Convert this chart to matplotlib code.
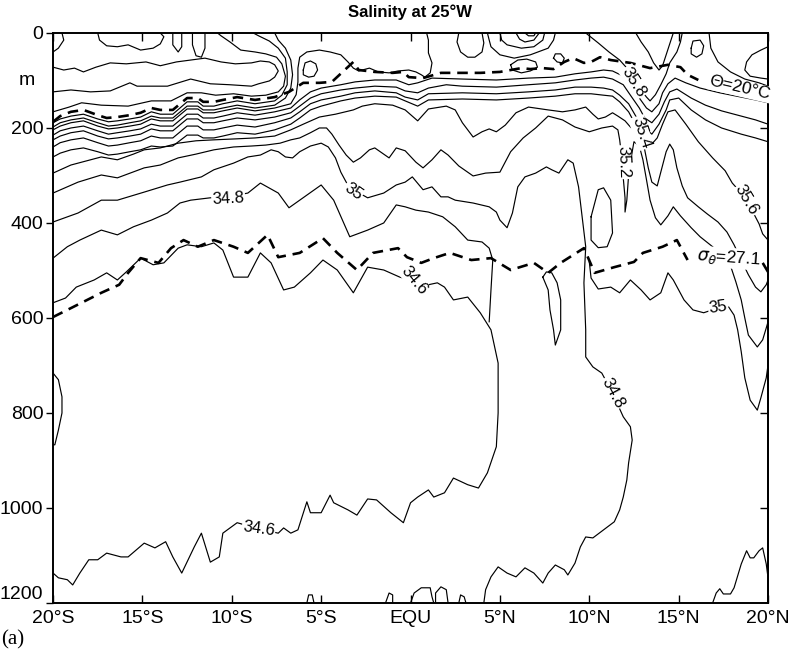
import matplotlib
matplotlib.use('Agg')
import matplotlib.pyplot as plt
import numpy as np

plt.rcParams['font.family'] = ['Liberation Sans', 'DejaVu Sans']

# ---- isohaline paths read off the section, (latitude, depth in m) ----
# south-west near-surface closed features
loop_sw = [(-20, 40), (-19.7, 32), (-19.4, 15), (-19.5, 0)]
loop_16s = [(-17.5, 0), (-17.4, 15), (-17.0, 27), (-16.4, 29), (-15.8, 25), (-15.1, 36),
            (-14.4, 32), (-14.0, 23), (-13.8, 8), (-14.0, 0)]
loop_13s = [(-13.3, 0), (-13.3, 25), (-13.0, 40), (-12.8, 29), (-12.8, 0)]
loop_12s = [(-12.2, 0), (-12.2, 25), (-12.0, 48), (-11.7, 51), (-11.5, 32), (-11.5, 0)]

# subtropical salinity-maximum tongue (closes near 7S)
tongue_a = [(-20, 72), (-19.4, 78), (-18.8, 74), (-18.3, 82), (-17.6, 72), (-16.8, 63), (-15.9, 65),
            (-14.8, 61), (-14.0, 69), (-13.1, 61), (-12.3, 57), (-11.5, 53), (-10.6, 61), (-9.8, 65),
            (-8.9, 63), (-8.4, 59), (-7.9, 61), (-7.6, 67), (-7.4, 80), (-7.6, 93), (-7.9, 101),
            (-8.5, 107), (-8.9, 112), (-10.1, 109), (-11.2, 107), (-12.3, 97), (-13.6, 112),
            (-14.5, 112), (-15.3, 112), (-15.7, 105), (-16.8, 122), (-17.9, 124), (-19.0, 120), (-20, 124)]
hook_b = [(-20, 166), (-19.1, 156), (-18.4, 147), (-17.3, 152), (-15.8, 154), (-14.5, 143), (-13.4, 143),
          (-12.5, 126), (-11.7, 126), (-10.9, 131), (-9.9, 128), (-8.9, 133), (-8.1, 131), (-7.4, 124),
          (-7.1, 112), (-7.0, 91), (-7.2, 65), (-7.5, 51), (-8.1, 44), (-8.7, 40), (-9.5, 36),
          (-10.1, 19), (-10.6, 6), (-10.8, 0)]
hook_c1 = [(-20, 189), (-19.6, 181), (-19.0, 175), (-18.3, 171), (-17.5, 181), (-16.9, 187), (-16.4, 185),
           (-15.7, 181), (-15.1, 177), (-14.5, 166), (-14.0, 171), (-13.3, 171), (-12.5, 145), (-11.9, 145),
           (-11.6, 154), (-11.0, 154), (-10.5, 149), (-9.7, 143), (-8.7, 149), (-7.6, 143), (-7.2, 131),
           (-6.9, 109), (-6.9, 82), (-7.0, 53), (-7.4, 32), (-7.9, 17), (-8.5, 6), (-8.8, 0)]
hook_c2 = [(-20, 198), (-19.6, 189), (-19.0, 183), (-18.3, 179), (-17.5, 189), (-16.9, 196), (-16.4, 194),
           (-15.7, 189), (-15.1, 185), (-14.5, 175), (-14.0, 179), (-13.3, 179), (-12.5, 154), (-11.9, 154),
           (-11.6, 162), (-11.0, 162), (-10.5, 158), (-9.7, 152), (-8.7, 158), (-7.6, 152), (-7.0, 137),
           (-6.7, 116), (-6.6, 88), (-6.7, 57), (-7.0, 32), (-7.4, 15), (-7.6, 0)]
hook_c3 = [(-20, 204), (-19.6, 196), (-19.0, 189), (-18.3, 185), (-17.5, 196), (-16.9, 202), (-16.4, 200),
           (-15.7, 196), (-15.1, 192), (-14.5, 181), (-14.0, 185), (-13.3, 185), (-12.5, 160), (-11.9, 160),
           (-11.6, 168), (-11.0, 168), (-10.5, 164), (-9.7, 158), (-8.7, 164), (-7.6, 158), (-6.7, 149),
           (-6.4, 130), (-6.3, 103), (-6.3, 74), (-6.2, 51), (-5.8, 40), (-5.1, 36), (-4.5, 40), (-3.9, 46),
           (-3.5, 61), (-3.2, 74), (-2.9, 80), (-2.3, 74), (-1.8, 82), (-1.2, 84), (-0.7, 80), (-0.1, 78),
           (0.3, 82), (0.6, 88), (0.8, 93), (1.1, 84), (1.2, 63), (1.0, 42), (1.0, 15), (0.9, 0)]

# thermocline band running across the whole section
band_1 = [(-20, 215), (-19.6, 206), (-19.0, 200), (-18.3, 196), (-17.5, 206), (-16.9, 213), (-16.4, 210),
          (-15.7, 206), (-15.1, 202), (-14.5, 192), (-14.0, 196), (-13.3, 196), (-12.5, 171), (-11.9, 171),
          (-11.6, 179), (-11.0, 179), (-10.5, 175), (-9.7, 168), (-8.7, 173), (-7.6, 166), (-6.7, 158),
          (-6.2, 141), (-5.6, 124), (-5.0, 116), (-3.9, 109), (-3.1, 103), (-2.0, 99), (-0.8, 99),
          (-0.1, 109), (0.4, 105), (1.2, 95), (2.9, 97), (4.8, 99), (6.6, 95), (8.1, 93), (9.2, 86),
          (10.1, 82), (10.8, 78), (11.3, 80), (11.9, 91), (12.4, 112), (12.8, 137), (13.2, 158),
          (13.5, 166), (13.9, 149), (14.1, 126), (14.4, 107), (14.8, 95), (15.4, 105), (16.2, 116),
          (17.3, 126), (18.5, 135), (19.3, 141), (20.0, 147)]
band_2 = [(-20, 225), (-19.6, 217), (-19.0, 210), (-18.3, 206), (-17.5, 217), (-16.9, 223), (-16.4, 221),
          (-15.7, 217), (-15.1, 213), (-14.5, 202), (-14.0, 206), (-13.3, 206), (-12.5, 181), (-11.9, 181),
          (-11.6, 189), (-11.0, 189), (-10.5, 185), (-9.7, 179), (-8.7, 183), (-7.6, 177), (-6.7, 168),
          (-6.2, 154), (-5.6, 137), (-5.0, 128), (-3.9, 120), (-3.1, 116), (-2.0, 112), (-0.8, 114),
          (-0.3, 122), (0.4, 126), (1.0, 116), (2.0, 109), (2.9, 112), (4.8, 114), (6.6, 109), (8.1, 105),
          (9.2, 99), (10.1, 95), (10.8, 93), (11.3, 97), (11.9, 109), (12.3, 131), (12.8, 158),
          (13.1, 179), (13.5, 189), (13.9, 171), (14.2, 145), (14.5, 124), (14.9, 118), (15.7, 137),
          (16.5, 152), (17.4, 164), (18.5, 175), (19.3, 183), (20.0, 192)]
band_3 = [(-20, 240), (-19.6, 231), (-19.0, 225), (-18.3, 221), (-17.5, 231), (-16.9, 238), (-16.4, 236),
          (-15.7, 231), (-15.1, 227), (-14.5, 217), (-14.0, 221), (-13.3, 221), (-12.5, 196), (-11.9, 196),
          (-11.6, 204), (-11.0, 204), (-10.5, 200), (-9.7, 194), (-8.7, 198), (-7.6, 189), (-6.7, 179),
          (-6.2, 166), (-5.6, 149), (-5.0, 141), (-3.9, 133), (-3.1, 126), (-2.0, 122), (-0.8, 126),
          (-0.3, 135), (0.4, 141), (1.0, 128), (2.9, 126), (4.8, 128), (6.6, 124), (8.1, 120), (9.2, 114),
          (10.1, 114), (10.8, 116), (11.3, 120), (11.7, 131), (12.2, 149), (12.6, 175), (13.1, 200),
          (13.5, 213), (13.9, 192), (14.3, 162), (14.5, 141), (15.0, 137), (15.7, 162), (16.5, 183),
          (17.4, 200), (18.5, 213), (19.3, 221), (20.0, 229)]
band_4 = [(-20, 261), (-19.6, 253), (-19.0, 246), (-18.3, 242), (-17.5, 250), (-16.9, 257), (-16.4, 255),
          (-15.7, 250), (-15.1, 246), (-14.5, 238), (-14.0, 240), (-13.3, 238), (-12.5, 215), (-11.9, 215),
          (-11.6, 221), (-11.0, 221), (-10.5, 217), (-9.7, 210), (-8.7, 213), (-7.6, 204), (-6.7, 192),
          (-6.2, 179), (-5.6, 162), (-5.0, 154), (-3.9, 143), (-3.1, 137), (-2.0, 133), (-0.8, 135),
          (-0.3, 143), (0.4, 154), (1.0, 141), (2.9, 139), (4.8, 141), (6.6, 137), (8.1, 133), (9.2, 128),
          (10.1, 128), (10.8, 131), (11.3, 133), (11.7, 145), (12.2, 166), (12.6, 194), (13.0, 221),
          (13.4, 238), (13.8, 221), (14.1, 192), (14.4, 166), (14.8, 162), (15.4, 192), (16.1, 229),
          (16.9, 263), (17.6, 290), (18.0, 316), (18.5, 337), (18.8, 356), (19.1, 373), (19.5, 402),
          (19.7, 423), (20.0, 436)]
iso_35_4 = [(-20, 295), (-19.0, 278), (-17.9, 267), (-17.3, 261), (-16.4, 267), (-15.5, 255), (-14.9, 246),
            (-14.0, 242), (-13.0, 232), (-12.0, 227), (-11.0, 225), (-9.8, 223), (-8.7, 221), (-7.6, 217),
            (-6.7, 204), (-6.0, 192), (-5.1, 177), (-4.2, 171), (-3.2, 162), (-2.7, 154), (-2.0, 149),
            (-1.0, 152), (-0.3, 162), (0.4, 185), (1.0, 160), (2.0, 154), (2.5, 162), (2.9, 189),
            (3.5, 219), (4.0, 208), (4.4, 202), (4.8, 208), (5.3, 194), (5.9, 168), (6.6, 156), (7.7, 162),
            (8.5, 166), (9.2, 162), (9.8, 156), (10.2, 171), (10.5, 181), (10.9, 177), (11.3, 168),
            (11.6, 175), (12.0, 185), (12.3, 198), (12.6, 208), (12.9, 219), (13.1, 246), (13.3, 284),
            (13.5, 314), (13.8, 322), (14.0, 293), (14.3, 250), (14.5, 234), (14.7, 246), (14.9, 284),
            (15.2, 322), (15.5, 347), (16.1, 366), (16.6, 381), (17.2, 398), (17.7, 419), (18.1, 446),
            (18.5, 478), (18.9, 509), (19.3, 535), (19.6, 545), (19.9, 530), (20.0, 520)]
iso_35_2 = [(-20, 337), (-18.6, 314), (-17.3, 299), (-16.4, 305), (-14.9, 284), (-14.0, 278), (-13.0, 263),
            (-12.0, 255), (-11.0, 246), (-9.9, 240), (-8.9, 238), (-8.1, 236), (-7.3, 232), (-6.7, 225),
            (-6.2, 221), (-5.6, 210), (-5.1, 200), (-4.7, 200), (-4.4, 213), (-4.0, 236), (-3.6, 257),
            (-3.2, 272), (-2.8, 263), (-2.3, 246), (-2.0, 242), (-1.2, 263), (-0.8, 242), (-0.3, 248),
            (0.3, 272), (0.7, 284), (1.2, 267), (1.7, 246), (2.1, 257), (2.7, 280), (3.5, 301), (4.2, 295),
            (5.0, 293), (5.6, 250), (6.3, 221), (7.0, 200), (7.7, 175), (8.5, 183), (9.2, 198), (10.0, 208),
            (10.7, 200), (11.3, 196), (11.6, 204), (11.7, 225), (11.8, 257), (11.9, 305), (12.0, 347),
            (12.0, 377), (12.1, 352), (12.2, 299), (12.4, 250), (12.5, 229), (12.8, 238), (13.0, 267),
            (13.2, 309), (13.4, 352), (13.7, 389), (14.0, 404), (14.4, 385), (14.7, 366), (15.1, 385),
            (15.7, 410), (16.2, 429), (16.9, 450), (17.4, 469), (17.9, 490), (18.2, 524), (18.5, 562),
            (18.7, 600), (18.9, 636), (19.4, 661), (19.7, 646), (19.9, 621), (20.0, 608)]
iso_35_0 = [(-20, 398), (-18.6, 379), (-17.3, 352), (-16.4, 352), (-14.9, 335), (-13.6, 320), (-12.9, 314),
            (-11.7, 303), (-11.0, 288), (-9.9, 274), (-9.1, 261), (-8.4, 257), (-7.8, 246), (-7.4, 250),
            (-7.0, 261), (-6.6, 263), (-6.2, 250), (-5.6, 238), (-5.0, 232), (-4.6, 240), (-4.2, 263),
            (-3.9, 293), (-3.6, 314), (-3.2, 330), (-2.4, 347), (-1.5, 337), (-0.8, 320), (-0.3, 314),
            (0.1, 303), (0.7, 330), (1.2, 324), (1.7, 345), (2.1, 345), (2.5, 352), (3.5, 358), (4.4, 366),
            (4.8, 377), (5.0, 394), (5.4, 410), (5.7, 379), (6.0, 324), (6.4, 303), (7.0, 295), (7.6, 282),
            (7.9, 288), (8.3, 295), (8.8, 267), (9.1, 274), (9.4, 324), (9.6, 387), (9.8, 450), (9.7, 526),
            (9.8, 625), (9.8, 682), (10.2, 703), (10.7, 716), (11.3, 758), (11.9, 808), (12.3, 829),
            (12.4, 857), (12.2, 905), (12.1, 941), (11.9, 977), (11.7, 1004), (11.4, 1029), (10.8, 1046),
            (10.2, 1063), (9.8, 1061), (9.5, 1082), (9.2, 1116), (8.8, 1141), (8.6, 1130), (8.1, 1120),
            (7.7, 1137), (7.4, 1158), (6.9, 1137), (6.4, 1126), (5.9, 1145), (5.4, 1137), (4.9, 1124),
            (4.5, 1145), (4.2, 1172), (4.1, 1200)]
iso_34_8 = [(-20, 474), (-19.2, 450), (-18.5, 436), (-17.3, 415), (-16.4, 425), (-15.5, 408), (-14.5, 394),
            (-13.6, 379), (-12.9, 358), (-12.3, 352), (-11.2, 347), (-10.2, 345), (-9.1, 337), (-8.4, 316),
            (-7.4, 337), (-6.8, 368), (-6.2, 352), (-5.0, 320), (-4.3, 352), (-3.4, 429), (-2.4, 415),
            (-1.5, 400), (-0.8, 362), (-0.3, 366), (0.3, 373), (1.0, 377), (1.8, 387), (2.5, 408),
            (3.2, 436), (4.0, 440), (4.4, 453), (4.6, 478), (4.5, 541), (4.4, 608)]
iso_34_6 = [(-20, 568), (-19.3, 558), (-18.7, 535), (-17.7, 520), (-17.0, 505), (-16.4, 520), (-15.9, 503),
            (-15.1, 474), (-14.4, 488), (-13.8, 484), (-13.0, 453), (-12.5, 446), (-11.7, 450), (-11.0, 442),
            (-10.5, 457), (-9.9, 514), (-9.1, 514), (-8.4, 463), (-7.8, 484), (-7.1, 541), (-6.5, 535),
            (-5.6, 505), (-4.9, 478), (-4.1, 499), (-3.2, 547), (-2.4, 493), (-1.5, 499), (-0.6, 514),
            (0.2, 522), (1.0, 530), (1.5, 526), (1.9, 535), (2.4, 562), (3.2, 556), (3.9, 589), (4.5, 625),
            (4.9, 695), (4.9, 800), (4.8, 871), (4.3, 926), (3.8, 958), (3.2, 951), (2.4, 937), (1.9, 968),
            (1.3, 977), (1.0, 962), (0.4, 977), (0.0, 989), (-0.4, 1031), (-1.1, 1010), (-1.9, 983),
            (-2.4, 981), (-3.0, 1015), (-3.5, 1004), (-4.3, 989), (-4.5, 973), (-5.0, 1010), (-5.6, 1010),
            (-5.8, 987), (-6.3, 1046), (-6.7, 1053), (-7.1, 1042), (-7.4, 1053), (-8.5, 1044), (-9.7, 1031),
            (-10.1, 1042), (-10.5, 1053), (-10.7, 1103), (-11.2, 1114), (-11.7, 1053), (-12.1, 1082),
            (-12.8, 1137), (-13.3, 1103), (-13.7, 1071), (-14.3, 1084), (-14.9, 1074), (-15.8, 1103),
            (-16.2, 1103), (-17.0, 1095), (-17.5, 1109), (-18.0, 1109), (-18.5, 1137), (-18.9, 1162),
            (-19.2, 1151), (-19.7, 1147), (-20, 1137)]

# equatorial / northern near-surface features
eq_u = [(2.7, 0), (2.6, 19), (2.8, 40), (3.2, 51), (3.6, 51), (4.0, 40), (4.1, 21), (4.0, 0)]
eq_ring1 = [(4.3, 0), (4.4, 15), (4.5, 29), (5.0, 46), (5.8, 53), (6.7, 46), (7.7, 32), (8.0, 15), (8.1, 0)]
eq_ring2 = [(5.0, 0), (5.1, 15), (5.4, 25), (6.2, 32), (6.9, 29), (7.4, 15), (7.5, 0)]
eq_ring3 = [(5.9, 0), (6.1, 13), (6.4, 19), (6.9, 15), (7.2, 0)]
eq_ring4 = [(6.4, 0), (6.6, 6), (6.9, 6), (7.0, 0)]
eq_oval = [(5.6, 67), (6.0, 57), (6.5, 55), (7.0, 61), (7.1, 72), (6.7, 80), (6.2, 84), (5.7, 78), (5.6, 67)]
eq_dot = [(8.0, 53), (8.2, 61), (8.5, 63), (8.6, 53), (8.4, 44), (8.1, 44), (8.0, 53)]
s_loop_5s = [(-6.0, 78), (-5.9, 63), (-5.6, 59), (-5.3, 65), (-5.2, 78), (-5.4, 91), (-5.7, 93),
             (-6.0, 88), (-6.0, 78)]
front_diag = [(9.8, 0), (10.5, 21), (11.1, 40), (11.7, 57), (12.2, 78), (12.6, 103), (12.9, 120), (13.2, 135),
              (13.4, 143), (13.7, 130), (14.0, 109), (14.3, 86), (14.5, 63), (14.9, 40), (15.1, 19), (15.2, 0)]
front_v = [(12.6, 0), (12.9, 19), (13.3, 40), (13.6, 63), (13.9, 78), (14.1, 69), (14.3, 46), (14.5, 23), (14.7, 0)]
n_loop = [(15.7, 32), (15.8, 17), (16.2, 15), (16.4, 27), (16.3, 44), (16.0, 51), (15.7, 44), (15.7, 32)]
n_top = [(16.7, 0), (16.8, 32), (17.2, 61), (17.9, 82), (18.7, 97), (19.5, 105), (20.0, 112)]
n_edge = [(20.0, 29), (19.6, 36), (19.1, 46), (18.8, 61), (18.7, 78), (19.0, 91), (19.6, 95), (20.0, 97)]

# deeper closed features
n_35_0 = [(10.0, 482), (10.1, 516), (10.5, 539), (11.2, 535), (11.7, 547), (12.3, 520), (12.9, 541),
          (13.4, 562), (14.0, 547), (14.4, 505), (14.7, 520), (15.3, 562), (15.8, 583), (16.4, 589),
          (17.2, 579), (17.8, 577), (18.1, 594), (18.3, 625), (18.5, 671), (18.7, 726), (19.0, 773),
          (19.4, 794), (19.6, 768), (19.9, 726), (20.0, 699)]
loop_10n = [(10.1, 387), (10.5, 330), (10.8, 326), (11.2, 352), (11.3, 421), (11.0, 450), (10.5, 452),
            (10.1, 436), (10.1, 387)]
loop_8n = [(7.4, 514), (7.7, 541), (7.8, 583), (8.0, 625), (8.1, 657), (8.4, 625), (8.4, 562), (8.2, 526),
           (7.9, 505), (7.6, 503), (7.4, 514)]
loop_20s_deep = [(-20, 716), (-19.7, 730), (-19.5, 766), (-19.5, 800), (-19.7, 836), (-19.9, 867), (-20, 867)]
bottom_bumps = [
    [(-5.8, 1200), (-5.7, 1183), (-5.5, 1183), (-5.4, 1200)],
    [(-1.4, 1200), (-1.2, 1179), (-1.0, 1183), (-1.0, 1200)],
    [(0.0, 1200), (0.2, 1179), (0.6, 1168), (1.1, 1168), (1.2, 1187), (1.3, 1200)],
    [(1.4, 1200), (1.4, 1179), (1.7, 1166), (2.0, 1172), (2.1, 1200)],
    [(2.7, 1200), (2.8, 1183), (3.0, 1187), (3.1, 1200)],
]
n_bottom = [(16.9, 1200), (17.1, 1179), (17.3, 1170), (17.5, 1181), (17.9, 1181), (18.1, 1168), (18.5, 1118),
            (18.8, 1090), (19.0, 1105), (19.2, 1105), (19.5, 1090), (19.7, 1084), (19.9, 1118), (20.0, 1147)]

# reference surfaces (dashed)
theta_20 = [(-20, 187), (-19.6, 175), (-19.0, 166), (-18.3, 162), (-17.5, 173), (-17.0, 179), (-16.4, 177),
            (-15.7, 173), (-15.1, 168), (-14.5, 158), (-14.0, 162), (-13.3, 162), (-12.5, 137), (-11.9, 137),
            (-11.6, 145), (-11.0, 145), (-10.5, 141), (-9.7, 135), (-8.7, 141), (-7.6, 135), (-6.8, 124),
            (-6.0, 105), (-5.1, 105), (-4.4, 103), (-3.8, 82), (-3.2, 61), (-2.9, 78), (-2.0, 82), (-1.0, 84),
            (-0.4, 82), (-0.1, 93), (0.7, 95), (1.7, 84), (2.8, 84), (3.9, 84), (5.0, 82), (5.6, 78),
            (6.2, 74), (6.7, 76), (7.4, 74), (8.0, 76), (8.6, 61), (9.1, 53), (9.7, 63), (10.1, 61),
            (10.6, 51), (11.2, 57), (12.3, 63), (13.4, 74), (14.4, 67), (15.1, 72), (15.5, 88), (16.1, 99)]
sigma_27_1 = [(-20, 598), (-19.2, 583), (-18.3, 566), (-17.3, 547), (-16.3, 530), (-15.8, 505), (-15.1, 474),
              (-14.1, 484), (-13.4, 453), (-12.7, 436), (-11.9, 450), (-11.0, 436), (-9.9, 450), (-9.1, 463),
              (-8.0, 425), (-7.4, 472), (-6.2, 463), (-4.9, 432), (-4.1, 463), (-3.0, 499), (-2.1, 463),
              (-0.7, 453), (-0.2, 472), (0.6, 484), (1.3, 474), (2.2, 463), (3.4, 478), (4.5, 474), (5.6, 499),
              (6.9, 484), (7.7, 505), (8.4, 484), (9.7, 453), (10.3, 505), (11.4, 493), (12.5, 482),
              (13.0, 463), (14.1, 450), (14.9, 436), (15.5, 478)]
sigma_27_1_end = [(19.7, 484), (20.0, 503)]

# contour labels: text, latitude, depth, rotation
label_text = ['34.8', '35', '34.6', '34.6', '35.8', '35.4', '35.2', '35.6', '35', '34.8']
label_lat = [-10.2, -3.2, 0.2, -8.5, 12.5, 12.9, 11.9, 18.8, 17.2, 11.3]
label_dep = [349, 333, 520, 1044, 103, 210, 272, 352, 577, 758]
label_rot = [3, -35, -50, -8, -58, -72, -88, -60, 8, -62]

lat_ticks = [-20, -15, -10, -5, 0, 5, 10, 15, 20]
lat_labels = ['20°S', '15°S', '10°S', '5°S', 'EQU', '5°N', '10°N', '15°N', '20°N']
depth_ticks = [0, 200, 400, 600, 800, 1000, 1200]

solid_paths = [loop_sw, loop_16s, loop_13s, loop_12s, tongue_a, hook_b, hook_c1, hook_c2, hook_c3,
               band_1, band_2, band_3, band_4, iso_35_4, iso_35_2, iso_35_0, iso_34_8, iso_34_6,
               eq_u, eq_ring1, eq_ring2, eq_ring3, eq_ring4, eq_oval, eq_dot, s_loop_5s, front_diag,
               front_v, n_loop, n_top, n_edge, n_35_0, loop_10n, loop_8n, loop_20s_deep, n_bottom] + bottom_bumps

fig = plt.figure(figsize=(7.94, 6.58), dpi=100)
ax = fig.add_axes([0.0668, 0.0836, 0.9005, 0.8663])

for path in solid_paths:
    p = np.array(path, dtype=float)
    ax.plot(p[:, 0], p[:, 1], color='black', lw=0.85, solid_joinstyle='round')

for path in [theta_20, sigma_27_1, sigma_27_1_end]:
    p = np.array(path, dtype=float)
    ax.plot(p[:, 0], p[:, 1], color='black', lw=1.9, linestyle=(0, (4, 2.6)), dash_capstyle='butt')

box = dict(boxstyle='square,pad=0.05', fc='white', ec='none')
for t, x, y, r in zip(label_text, label_lat, label_dep, label_rot):
    ax.text(x, y, t, rotation=r, ha='center', va='center', fontsize=12, zorder=5,
            rotation_mode='anchor', bbox=box)

ax.text(18.4, 116, 'Θ=20°C', rotation=-13, ha='center', va='center', fontsize=12.5, zorder=5,
        rotation_mode='anchor', bbox=box)
ax.text(17.8, 474, r'$\sigma_\theta$=27.1', rotation=-4, ha='center', va='center', fontsize=12.5, zorder=5,
        rotation_mode='anchor', bbox=box)

ax.set_xlim(-20, 20)
ax.set_ylim(1200, 0)
ax.set_xticks(lat_ticks)
ax.set_xticklabels(lat_labels, fontsize=14)
ax.set_yticks(depth_ticks)
ax.set_yticklabels([str(d) for d in depth_ticks], fontsize=14)
ax.tick_params(axis='x', direction='in', top=True, bottom=True, length=6, width=1, pad=5)
ax.tick_params(axis='y', direction='out', left=True, right=False, length=5, width=1, pad=2)
ax.get_yticklabels()[-1].set_verticalalignment('bottom')
ax.text(-21.0, 100, 'm', ha='right', va='center', fontsize=14)

right = ax.secondary_yaxis('right')
right.set_yticks(depth_ticks[1:-1])
right.tick_params(direction='in', length=6, width=1, labelright=False)
right.spines['right'].set_linewidth(1.4)

for s in ax.spines.values():
    s.set_linewidth(1.4)

fig.text(0.516, 0.981, 'Salinity at 25°W', ha='center', va='center', fontsize=12, fontweight='bold')
fig.text(0.002, 0.027, '(a)', ha='left', va='center', fontsize=15, family='Liberation Serif')

fig.savefig('out.png', dpi=100)
